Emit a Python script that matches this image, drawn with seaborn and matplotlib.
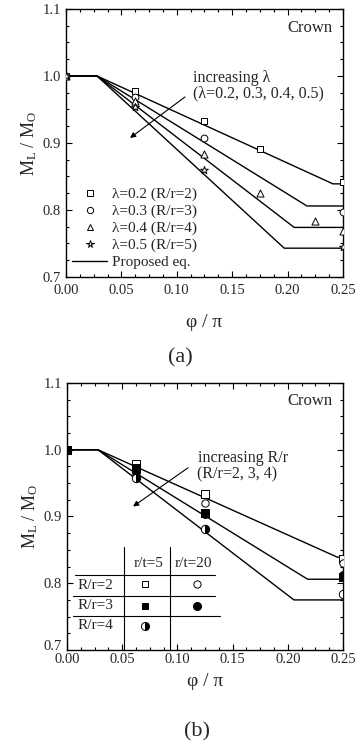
import numpy as np
import pandas as pd
import matplotlib
matplotlib.use("Agg")
import matplotlib.pyplot as plt
from matplotlib.ticker import MultipleLocator, FormatStrFormatter
from matplotlib.lines import Line2D
import seaborn as sns

# ---------------- data (a) ----------------
lam_labels = ["λ=0.2 (R/r=2)", "λ=0.3 (R/r=3)", "λ=0.4 (R/r=4)", "λ=0.5 (R/r=5)"]
lam_markers = ["s", "o", "^", "*"]
a_sq_x = [0.0, 0.0625, 0.125, 0.175, 0.25]
a_sq_y = [1.0, 0.977, 0.933, 0.891, 0.842]
a_ci_x = [0.0, 0.0625, 0.125, 0.25]
a_ci_y = [1.0, 0.969, 0.908, 0.797]
a_tr_x = [0.0, 0.0625, 0.125, 0.175, 0.225, 0.25]
a_tr_y = [1.0, 0.962, 0.884, 0.825, 0.784, 0.768]
a_st_x = [0.0, 0.0625, 0.125, 0.25]
a_st_y = [1.0, 0.953, 0.860, 0.745]
# proposed equation polylines (vertices)
a_line_x = [[0.0, 0.028, 0.241, 0.25], [0.0, 0.028, 0.2175, 0.25],
            [0.0, 0.028, 0.206, 0.25], [0.0, 0.028, 0.197, 0.25]]
a_line_y = [[1.0, 1.0, 0.839, 0.839], [1.0, 1.0, 0.806, 0.806],
            [1.0, 1.0, 0.774, 0.774], [1.0, 1.0, 0.743, 0.743]]

# ---------------- data (b) ----------------
b_x = [0.0, 0.0625, 0.125, 0.25]
b_sq_open = [1.0, 0.979, 0.933, 0.836]     # R/r=2, r/t=5
b_ci_open = [1.0, 0.960, 0.920, 0.831]     # R/r=2, r/t=20
b_sq_fill = [1.0, 0.972, 0.905, 0.810]     # R/r=3, r/t=5
b_ci_fill = [1.0, 0.967, 0.903, 0.812]     # R/r=3, r/t=20
b_half    = [1.0, 0.958, 0.882, 0.784]     # R/r=4, r/t=5
b_line_x = [[0.0, 0.028, 0.245, 0.25], [0.0, 0.028, 0.218, 0.25],
            [0.0, 0.028, 0.2056, 0.25]]
b_line_y = [[1.0, 1.0, 0.839, 0.839], [1.0, 1.0, 0.806, 0.806],
            [1.0, 1.0, 0.775, 0.775]]

xticks = [0.00, 0.05, 0.10, 0.15, 0.20, 0.25]
yticks = [0.7, 0.8, 0.9, 1.0, 1.1]

sns.set_style("ticks")
plt.rcParams["font.family"] = ["Liberation Serif", "DejaVu Serif"]
plt.rcParams["mathtext.fontset"] = "custom"
plt.rcParams["mathtext.rm"] = "Liberation Serif"
plt.rcParams["mathtext.it"] = "Liberation Serif:italic"

fig = plt.figure(figsize=(3.55, 7.43), dpi=100)
axA = fig.add_axes([0.186, 0.6272, 0.780, 0.3607])
axB = fig.add_axes([0.189, 0.1252, 0.777, 0.3593])


def style_axes(ax):
    ax.set_xlim(0, 0.25)
    ax.set_ylim(0.7, 1.1)
    ax.set_xticks(xticks)
    ax.set_yticks(yticks)
    ax.xaxis.set_minor_locator(MultipleLocator(0.0125))
    ax.yaxis.set_minor_locator(MultipleLocator(0.025))
    ax.xaxis.set_major_formatter(FormatStrFormatter("%.2f"))
    ax.yaxis.set_major_formatter(FormatStrFormatter("%.1f"))
    ax.tick_params(which="both", direction="in", top=True, right=True,
                   labelsize=10.5, color="black", width=0.8)
    ax.tick_params(which="major", length=4)
    ax.tick_params(which="minor", length=2.2)
    for s in ax.spines.values():
        s.set_linewidth(1.0)
        s.set_color("black")
    ax.set_ylabel(r"$\mathrm{M_L}$ / $\mathrm{M_O}$", fontsize=13, labelpad=3)


# ---------------- panel (a) ----------------
for i, (lx, ly) in enumerate(zip(a_line_x, a_line_y)):
    sns.lineplot(x=lx, y=ly, ax=axA, color="black", lw=1.0, sort=False,
                 estimator=None, legend=False)

a_sets = [(a_sq_x, a_sq_y), (a_ci_x, a_ci_y), (a_tr_x, a_tr_y), (a_st_x, a_st_y)]
sizes = [24, 24, 26, 34]
for (xs, ys), mk, lab, sz in zip(a_sets, lam_markers, lam_labels, sizes):
    sns.scatterplot(x=xs, y=ys, ax=axA, marker=mk, s=sz, facecolor="white",
                    edgecolor="black", linewidth=0.7, zorder=5, legend=False)

style_axes(axA)
axA.tick_params(axis="x", which="major", pad=5)
axA.set_xlabel("φ / π", fontsize=14, labelpad=12)

handles = [Line2D([], [], ls="none", marker=mk, ms=m, mfc="white", mec="black", mew=0.7)
           for mk, m in zip(lam_markers, [4.5, 4.5, 4.8, 5.5])]
handles.append(Line2D([], [], color="black", lw=1.0))
labels = lam_labels + ["Proposed eq."]
axA.legend(handles, labels, loc="lower left", bbox_to_anchor=(0.022, 0.03),
           frameon=False, fontsize=11, handlelength=2.3, handletextpad=0.3,
           labelspacing=0.2, borderpad=0.0, borderaxespad=0.0)

axA.annotate("", xy=(0.0578, 0.9075), xytext=(0.1074, 0.9687),
             arrowprops=dict(arrowstyle="-|>", color="black", lw=0.8,
                             mutation_scale=8, shrinkA=0, shrinkB=0))
axA.text(0.1146, 0.997, "increasing λ", fontsize=11.5, va="center", ha="left")
axA.text(0.1146, 0.974, "(λ=0.2, 0.3, 0.4, 0.5)", fontsize=11.5, va="center", ha="left")
axA.text(0.241, 1.0716, "Crown", fontsize=12, va="center", ha="right")
fig.text(180 / 355, 1 - 358 / 743, "(a)", fontsize=16, ha="center", va="center")

# ---------------- panel (b) ----------------
for lx, ly in zip(b_line_x, b_line_y):
    sns.lineplot(x=lx, y=ly, ax=axB, color="black", lw=1.0, sort=False,
                 estimator=None, legend=False)

sns.scatterplot(x=b_x, y=b_sq_open, ax=axB, marker="s", s=26, facecolor="white",
                edgecolor="black", linewidth=0.7, zorder=5, legend=False)
sns.scatterplot(x=b_x, y=b_ci_open, ax=axB, marker="o", s=28, facecolor="white",
                edgecolor="black", linewidth=0.7, zorder=5, legend=False)
sns.scatterplot(x=b_x, y=b_sq_fill, ax=axB, marker="s", s=26, facecolor="black",
                edgecolor="black", linewidth=0.7, zorder=6, legend=False)
sns.scatterplot(x=b_x, y=b_ci_fill, ax=axB, marker="o", s=32, facecolor="black",
                edgecolor="black", linewidth=0.7, zorder=6, legend=False)
sns.lineplot(x=b_x, y=b_half, ax=axB, linestyle="none", marker="o", markersize=6,
             fillstyle="right", markerfacecolor="black", markerfacecoloralt="white",
             mec="black", mew=0.7, zorder=7, legend=False)

style_axes(axB)
axB.tick_params(axis="x", which="major", pad=2)
axB.set_xlabel("φ / π", fontsize=14, labelpad=5)
# the lowest y label sits slightly raised in the reference
for lbl in axB.get_yticklabels():
    if lbl.get_text() == "0.7":
        lbl.set_verticalalignment("baseline")

axB.annotate("", xy=(0.0598, 0.915), xytext=(0.1096, 0.973),
             arrowprops=dict(arrowstyle="-|>", color="black", lw=0.8,
                             mutation_scale=8, shrinkA=0, shrinkB=0))
axB.text(0.1187, 0.987, "increasing R/r", fontsize=11.5, va="center", ha="left")
axB.text(0.1178, 0.963, "(R/r=2, 3, 4)", fontsize=11.5, va="center", ha="left")
axB.text(0.241, 1.073, "Crown", fontsize=12, va="center", ha="right")

# table-style legend
lk = dict(color="black", lw=0.8)
axB.plot([0.0516, 0.0516], [0.70, 0.855], **lk)
axB.plot([0.0933, 0.0933], [0.70, 0.855], **lk)
axB.plot([0.007, 0.134], [0.813, 0.813], **lk)
axB.plot([0.005, 0.134], [0.781, 0.781], **lk)
axB.plot([0.005, 0.139], [0.751, 0.751], **lk)
axB.text(0.0734, 0.829, "r/t=5", fontsize=11, ha="center", va="center")
axB.text(0.1141, 0.829, "r/t=20", fontsize=11, ha="center", va="center")
axB.text(0.0254, 0.797, "R/r=2", fontsize=11, ha="center", va="center")
axB.text(0.0254, 0.766, "R/r=3", fontsize=11, ha="center", va="center")
axB.text(0.0254, 0.736, "R/r=4", fontsize=11, ha="center", va="center")
axB.plot([0.0707], [0.7985], ls="none", marker="s", ms=4.8, mfc="white", mec="black", mew=0.7)
axB.plot([0.1178], [0.7985], ls="none", marker="o", ms=5.2, mfc="white", mec="black", mew=0.7)
axB.plot([0.0707], [0.766], ls="none", marker="s", ms=4.8, mfc="black", mec="black", mew=0.7)
axB.plot([0.1178], [0.766], ls="none", marker="o", ms=5.8, mfc="black", mec="black", mew=0.7)
axB.plot([0.0707], [0.736], ls="none", marker="o", ms=5.8, fillstyle="right",
         mfc="black", mfcalt="white", mec="black", mew=0.7)

fig.text(197 / 355, 1 - 732 / 743, "(b)", fontsize=16, ha="center", va="center")

fig.savefig("out.png", dpi=100)
